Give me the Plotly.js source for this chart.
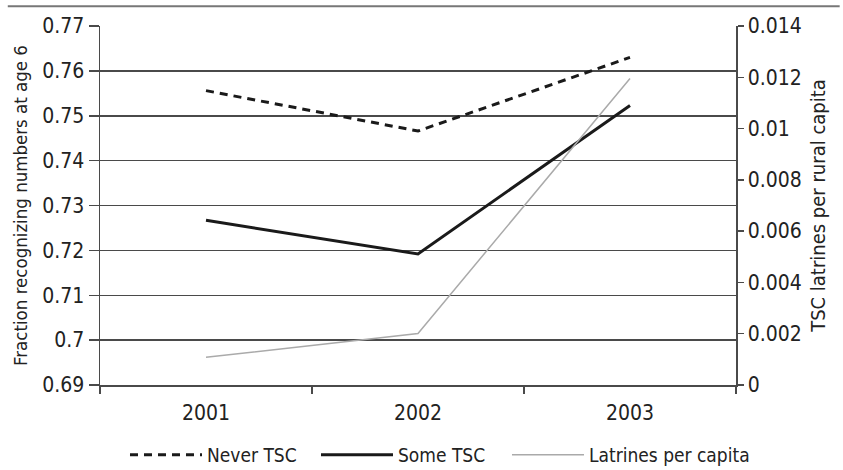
<!DOCTYPE html>
<html>
<head>
<meta charset="utf-8">
<script src="https://cdn.plot.ly/plotly-3.0.1.min.js"></script>
<style>
  html, body { margin: 0; padding: 0; background: #fff; }
  #chart { width: 843px; height: 470px; }
</style>
</head>
<body>
<div id="chart"></div>
<script>
const years = ["2001", "2002", "2003"];
const neverTSC = [0.7556, 0.7466, 0.7630];
const someTSC = [0.7267, 0.7192, 0.7523];
const latrinesPerCapita = [0.00108, 0.00201, 0.01195];
const seriesNames = ["Never TSC", "Some TSC", "Latrines per capita"];
const leftTitle = "Fraction recognizing numbers at age 6";
const rightTitle = "TSC latrines per rural capita";

const FONT = "DejaVu Sans Condensed, Liberation Sans Narrow, sans-serif";
const AX = "#4a4a4a";

const traces = [
  { x: years, y: neverTSC, name: seriesNames[0], type: "scatter", mode: "lines",
    line: { color: "#1a1a1a", width: 3, dash: "8px,6px" }, yaxis: "y" },
  { x: years, y: someTSC, name: seriesNames[1], type: "scatter", mode: "lines",
    line: { color: "#1a1a1a", width: 3 }, yaxis: "y" },
  { x: years, y: latrinesPerCapita, name: seriesNames[2], type: "scatter", mode: "lines",
    line: { color: "#aaaaaa", width: 1.5 }, yaxis: "y2" }
];

const layout = {
  width: 843, height: 470,
  margin: { l: 100, r: 107, t: 26, b: 85, autoexpand: false },
  paper_bgcolor: "#fff", plot_bgcolor: "#fff",
  font: { family: FONT, size: 20, color: "#222" },
  showlegend: true,
  legend: {
    orientation: "h", x: 0.0393, xanchor: "left", y: -0.195, yanchor: "middle",
    bgcolor: "rgba(0,0,0,0)", entrywidth: 104,
    font: { family: FONT, size: 19, color: "#222" }, itemwidth: 72, tracegroupgap: 0
  },
  xaxis: {
    type: "category", range: [-0.5, 2.5], tickson: "boundaries",
    ticks: "outside", ticklen: 7, tickcolor: AX, tickwidth: 1.5,
    showline: true, linecolor: AX, linewidth: 1.5, showgrid: false, zeroline: false,
    automargin: false,
    ticklabelstandoff: 8, tickfont: { family: FONT, size: 21, color: "#222" }
  },
  yaxis: {
    range: [0.69, 0.77], dtick: 0.01, tick0: 0.69, automargin: false,
    ticks: "outside", ticklen: 10, tickcolor: AX, tickwidth: 1.5,
    showline: true, linecolor: AX, linewidth: 1.5,
    showgrid: true, gridcolor: AX, gridwidth: 1.5, zeroline: false,
    tickfont: { family: FONT, size: 21, color: "#222" },
    title: { text: leftTitle, font: { family: FONT, size: 18.5, color: "#222" }, standoff: 10 }
  },
  yaxis2: {
    overlaying: "y", side: "right", range: [0, 0.014], dtick: 0.002, tick0: 0, automargin: false,
    ticks: "outside", ticklen: 6, tickcolor: AX, tickwidth: 1.5,
    showline: true, linecolor: AX, linewidth: 1.5, showgrid: false, zeroline: false,
    tickfont: { family: FONT, size: 21, color: "#222" },
    title: { text: rightTitle, font: { family: FONT, size: 20, color: "#222" }, standoff: 10 }
  },
  shapes: [
    { type: "line", xref: "paper", yref: "paper", x0: -0.145, x1: 1.163, y0: 1.055, y1: 1.055,
      line: { color: "#777", width: 2 } }
  ]
};

Plotly.newPlot("chart", traces, layout, { displayModeBar: false, staticPlot: true }).then(function (gd) {
  // lengthen legend sample lines to match the reference
  gd.querySelectorAll(".legend .legendlines path").forEach(function (p) {
    p.setAttribute("d", "M5,0h72");
  });
  // let the last legend label show in full (fixed entry width would clip it)
  gd.querySelectorAll(".legend [clip-path]").forEach(function (el) {
    el.removeAttribute("clip-path");
  });
});
</script>
</body>
</html>
